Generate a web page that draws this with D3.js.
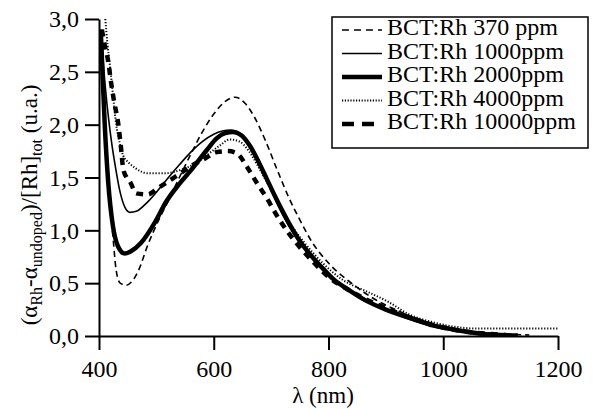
<!DOCTYPE html>
<html>
<head>
<meta charset="utf-8">
<script src="https://cdn.jsdelivr.net/npm/d3@7"></script>
<style>
  html, body { margin: 0; padding: 0; background: #fff; }
  svg { display: block; }
  svg text { font-family: "Liberation Serif", "Times New Roman", Times, "Noto Serif", "DejaVu Serif", FreeSerif, Tinos, Georgia, serif; fill: #000; }
</style>
</head>
<body>
<svg id="chart" width="593" height="409"></svg>
<script>
// ---- data ----
const seriesNames = ["BCT:Rh 370 ppm", "BCT:Rh 1000ppm", "BCT:Rh 2000ppm", "BCT:Rh 4000ppm", "BCT:Rh 10000ppm"];

const lambda370 = [405, 410, 415, 420, 424, 430, 437, 447, 458, 468, 485, 506, 520, 540, 560, 580, 600, 620, 637, 655, 670, 690, 710, 730, 750, 770, 800, 840, 880, 925, 960, 1000, 1050, 1100, 1150];
const value370  = [2.6, 2.0, 1.55, 1.2, 0.96, 0.62, 0.5, 0.48, 0.52, 0.61, 0.86, 1.12, 1.27, 1.5, 1.72, 1.93, 2.1, 2.22, 2.26, 2.2, 2.08, 1.85, 1.58, 1.32, 1.1, 0.9, 0.69, 0.5, 0.35, 0.23, 0.15, 0.08, 0.04, 0.02, 0.01];

const lambda1000 = [404, 408, 412, 416, 422, 428, 436, 445, 454, 465, 485, 515, 540, 560, 580, 600, 615, 630, 645, 660, 680, 700, 720, 740, 760, 790, 820, 860, 900, 950, 1000, 1050, 1100];
const value1000  = [2.9, 2.55, 2.3, 2.09, 1.83, 1.62, 1.38, 1.22, 1.17, 1.18, 1.27, 1.46, 1.62, 1.74, 1.84, 1.91, 1.94, 1.95, 1.92, 1.83, 1.62, 1.38, 1.15, 0.96, 0.81, 0.63, 0.49, 0.36, 0.25, 0.14, 0.07, 0.03, 0.01];

const lambda2000 = [403, 406, 410, 416, 424, 433, 445, 455, 473, 498, 517, 540, 559, 588, 605, 620, 634, 648, 663, 678, 693, 707, 721, 735, 750, 770, 790, 808, 837, 867, 900, 925, 955, 982, 1010, 1041, 1070, 1100, 1130];
const value2000  = [2.9, 2.5, 2.0, 1.46, 1.05, 0.85, 0.78, 0.8, 0.88, 1.08, 1.27, 1.44, 1.56, 1.76, 1.87, 1.92, 1.93, 1.9, 1.8, 1.65, 1.48, 1.32, 1.17, 1.03, 0.9, 0.76, 0.64, 0.54, 0.43, 0.33, 0.25, 0.2, 0.15, 0.1, 0.07, 0.04, 0.02, 0.01, 0.005];

const lambda4000 = [411, 415, 419, 424, 430, 436, 442, 452, 463, 485, 515, 541, 564, 590, 610, 628, 645, 660, 680, 700, 720, 740, 760, 790, 825, 867, 902, 942, 982, 1017, 1060, 1100, 1150, 1200];
const value4000  = [3.0, 2.75, 2.56, 2.3, 2.0, 1.83, 1.71, 1.64, 1.59, 1.54, 1.54, 1.57, 1.62, 1.72, 1.8, 1.86, 1.84, 1.76, 1.58, 1.38, 1.18, 1.01, 0.87, 0.69, 0.53, 0.42, 0.33, 0.2, 0.13, 0.09, 0.07, 0.07, 0.07, 0.07];

const lambda10000 = [405, 410, 416, 421, 427, 433, 438, 442, 448, 454, 465, 485, 503, 520, 545, 564, 585, 605, 625, 640, 658, 675, 693, 710, 727, 750, 770, 800, 840, 880, 920, 960, 1000, 1040, 1080, 1110];
const value10000  = [2.9, 2.75, 2.6, 2.4, 2.2, 2.03, 1.8, 1.59, 1.5, 1.46, 1.35, 1.34, 1.4, 1.46, 1.55, 1.62, 1.68, 1.74, 1.75, 1.73, 1.6, 1.45, 1.3, 1.14, 1.0, 0.84, 0.72, 0.56, 0.42, 0.31, 0.22, 0.14, 0.08, 0.04, 0.02, 0.01];

const xTicks = [400, 600, 800, 1000, 1200];
const yTicks = [0, 0.5, 1.0, 1.5, 2.0, 2.5, 3.0];

// ---- layout ----
const svg = d3.select("#chart");
const x = d3.scaleLinear().domain([400, 1200]).range([99, 558]);
const y = d3.scaleLinear().domain([0, 3]).range([336, 19]);

const styles = [
  { width: 1.6, dash: "6,4",     legendDash: "7,5" },
  { width: 1.6, dash: null,      legendDash: null },
  { width: 4.5, dash: null,      legendDash: null },
  { width: 2.0, dash: "1.2,1.8", legendDash: "1.2,1.6" },
  { width: 4.5, dash: "7,6",     legendDash: "12,8" }
];

const series = [
  { name: seriesNames[0], xs: lambda370,  ys: value370 },
  { name: seriesNames[1], xs: lambda1000, ys: value1000 },
  { name: seriesNames[2], xs: lambda2000, ys: value2000 },
  { name: seriesNames[3], xs: lambda4000, ys: value4000 },
  { name: seriesNames[4], xs: lambda10000, ys: value10000 }
];

svg.append("defs").append("clipPath").attr("id", "plotclip")
  .append("rect").attr("x", 99).attr("y", 17).attr("width", 462).attr("height", 320);

const line = d3.line().x(d => x(d[0])).y(d => y(d[1])).curve(d3.curveMonotoneX);

const plot = svg.append("g").attr("clip-path", "url(#plotclip)");
series.forEach((s, i) => {
  const pts = s.xs.map((l, j) => [l, s.ys[j]]);
  plot.append("path")
    .attr("d", line(pts))
    .attr("fill", "none")
    .attr("stroke", "#000")
    .attr("stroke-width", styles[i].width)
    .attr("stroke-dasharray", styles[i].dash)
    .attr("stroke-linejoin", "round");
});

// ---- axes ----
const fmt = d => d3.format(".1f")(d).replace(".", ",");
const yAxis = svg.append("g").attr("transform", "translate(99,0)")
  .call(d3.axisLeft(y).tickValues(yTicks).tickFormat(fmt).tickSize(14).tickSizeOuter(0).tickPadding(6));
const xAxis = svg.append("g").attr("transform", "translate(0,336)")
  .call(d3.axisBottom(x).tickValues(xTicks).tickFormat(d3.format("d")).tickSize(14).tickSizeOuter(0).tickPadding(10));

[yAxis, xAxis].forEach(g => {
  g.attr("font-family", null);
  g.select(".domain").attr("stroke", "#000").attr("stroke-width", 2);
  g.selectAll(".tick line").attr("stroke", "#000").attr("stroke-width", 2);
  g.selectAll(".tick text").attr("font-size", 24).attr("fill", "#000");
});

// x label
svg.append("text").attr("x", 323).attr("y", 403).attr("text-anchor", "middle")
  .attr("font-size", 23).text("λ (nm)");

// y label with subscripts
const yl = svg.append("text")
  .attr("transform", "translate(37,205) rotate(-90)")
  .attr("text-anchor", "middle").attr("font-size", 23);
yl.append("tspan").text("(α");
yl.append("tspan").attr("font-size", 16).attr("dy", 5).text("Rh");
yl.append("tspan").attr("dy", -5).text("-α");
yl.append("tspan").attr("font-size", 16).attr("dy", 5).text("undoped");
yl.append("tspan").attr("dy", -5).text(")/[Rh]");
yl.append("tspan").attr("font-size", 16).attr("dy", 5).text("tot");
yl.append("tspan").attr("dy", -5).text(" (u.a.)");

// ---- legend ----
const lg = svg.append("g");
lg.append("rect").attr("x", 332).attr("y", 17).attr("width", 256).attr("height", 131)
  .attr("fill", "#fff").attr("stroke", "#000").attr("stroke-width", 1.5);
series.forEach((s, i) => {
  const base = 35 + i * 23.5;
  lg.append("line")
    .attr("x1", 342).attr("x2", 382).attr("y1", base - 5).attr("y2", base - 5)
    .attr("stroke", "#000").attr("stroke-width", styles[i].width)
    .attr("stroke-dasharray", styles[i].legendDash);
  lg.append("text").attr("x", 387).attr("y", base).attr("font-size", 24).text(s.name);
});
</script>
</body>
</html>
